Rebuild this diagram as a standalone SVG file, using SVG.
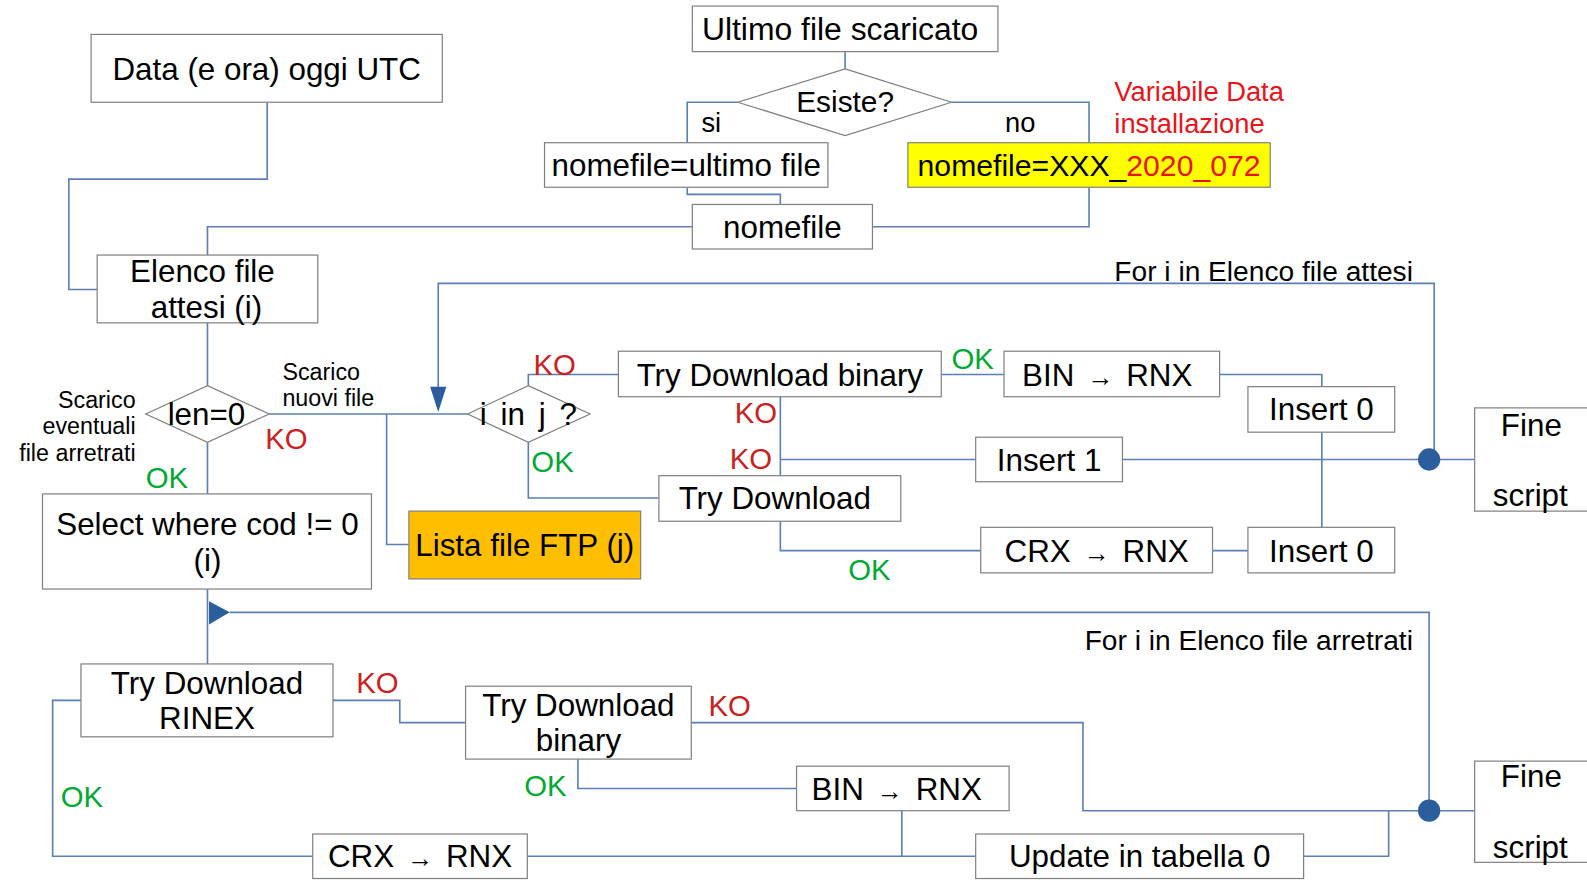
<svg xmlns="http://www.w3.org/2000/svg" width="1587" height="893" viewBox="0 0 1587 893">
<defs>
<style>
.bx{fill:#fff;stroke:#808080;stroke-width:1.2}
.cn{fill:none;stroke:#5b7fb5;stroke-width:1.6}
.hd{fill:#2c5d9c;stroke:none}
text{font-family:"Liberation Sans",Arial,sans-serif;fill:#000}
.t{font-size:31px;text-anchor:middle}
.s{font-size:23px}
.m{font-size:27px}
.ko{font-size:29px;fill:#c9211e}
.ok{font-size:29px;fill:#00a933}
.cv{word-spacing:4px}
.ar{font-size:26px}
.red{fill:#e8141a}
</style>
</defs>
<rect width="1587" height="893" fill="#fff"/>
<g transform="scale(1.01212)">
<g id="connectors">
<path class="cn" d="M264,101 V177 H68 V286 H96"/>
<path class="cn" d="M835,51 V68"/>
<path class="cn" d="M729,101 H679 V141"/>
<path class="cn" d="M940,101 H1076 V224 H862"/>
<path class="cn" d="M679,185 V192 H771 V202"/>
<path class="cn" d="M684,224 H205 V252"/>
<path class="cn" d="M205,319 V381"/>
<path class="cn" d="M205,437 V488"/>
<path class="cn" d="M266,409 H462"/>
<path class="cn" d="M382,409 V538 H404"/>
<path class="cn" d="M1417,454 V280 H433 V384"/>
<polygon class="hd" points="425,382 441,382 433,407"/>
<path class="cn" d="M522,381 V370 H611"/>
<path class="cn" d="M522,437 V492 H651"/>
<path class="cn" d="M930,370 H992"/>
<path class="cn" d="M1205,370 H1306 V382"/>
<path class="cn" d="M771,392 V470"/>
<path class="cn" d="M771,454 H964"/>
<path class="cn" d="M1109,454 H1457"/>
<path class="cn" d="M1306,427 V521"/>
<path class="cn" d="M771,515 V544 H969"/>
<path class="cn" d="M1198,544 H1233"/>
<path class="cn" d="M205,582 V656"/>
<path class="cn" d="M1412,801 V605 H227"/>
<polygon class="hd" points="206.5,594 206.5,617 227,605"/>
<path class="cn" d="M329,692 H395 V714 H460"/>
<path class="cn" d="M80,692 H52 V846 H309"/>
<path class="cn" d="M683,714 H1070 V801 H1457"/>
<path class="cn" d="M571,750 V779 H787"/>
<path class="cn" d="M891,801 V846 H964"/>
<path class="cn" d="M521,846 H891"/>
<path class="cn" d="M1288,846 H1372 V801"/>
<circle class="hd" cx="1412" cy="454" r="11"/>
<circle class="hd" cx="1412" cy="801" r="11"/>
</g>
<g id="labels">
<text class="m" x="693" y="130">si</text>
<text class="m" x="993" y="130">no</text>
<text class="m red" x="1101" y="100">Variabile Data</text>
<text class="m red" x="1101" y="131">installazione</text>
<text class="s" x="279" y="375">Scarico</text>
<text class="s" x="279" y="401">nuovi file</text>
<text class="s" x="134" y="403" text-anchor="end">Scarico</text>
<text class="s" x="134" y="429" text-anchor="end">eventuali</text>
<text class="s" x="134" y="455" text-anchor="end">file arretrati</text>
<text class="ko" x="262" y="444">KO</text>
<text class="ok" x="144" y="482">OK</text>
<text class="ko" x="527" y="371">KO</text>
<text class="ok" x="525" y="466">OK</text>
<text class="ok" x="940" y="365">OK</text>
<text class="ko" x="726" y="418">KO</text>
<text class="ko" x="721" y="463">KO</text>
<text class="ok" x="838" y="573">OK</text>
<text class="m" x="1396" y="278" text-anchor="end" style="font-size:27.8px">For i in Elenco file attesi</text>
<text class="m" x="1396" y="642" text-anchor="end" style="font-size:27.8px">For i in Elenco file arretrati</text>
<text class="ko" x="352" y="685">KO</text>
<text class="ko" x="700" y="707">KO</text>
<text class="ok" x="518" y="786">OK</text>
<text class="ok" x="60" y="797">OK</text>
</g>
<g id="n-data"><rect class="bx" x="90" y="34" width="347" height="67"/><text class="t" x="263.5" y="79">Data (e ora) oggi UTC</text></g>
<g id="n-ultimo"><rect class="bx" x="684" y="6" width="302" height="45"/><text class="t" x="830" y="40" style="font-size:31.5px">Ultimo file scaricato</text></g>
<g id="n-esiste"><polygon class="bx" points="835,68 940,101 835,134 729,101"/><text class="t" x="835" y="111" style="font-size:29.5px">Esiste?</text></g>
<g id="n-ultimofile"><rect class="bx" x="538" y="141" width="280" height="44"/><text class="t" x="678" y="174">nomefile=ultimo file</text></g>
<g id="n-xxx"><rect class="bx" x="897" y="141" width="358" height="44" style="fill:#ffff00"/><text class="t" x="1076" y="174" style="font-size:29.8px">nomefile=XXX_<tspan class="red">2020_072</tspan></text></g>
<g id="n-nomefile"><rect class="bx" x="684" y="202" width="178" height="44"/><text class="t" x="773" y="235">nomefile</text></g>
<g id="n-elenco"><rect class="bx" x="96" y="252" width="218" height="67"/><text class="t" x="200" y="279">Elenco file</text><text class="t" x="204" y="314">attesi (i)</text></g>
<g id="n-len"><polygon class="bx" points="205,381 266,409 205,437 144,409"/><text class="t" x="204" y="420">len=0</text></g>
<g id="n-iinj"><polygon class="bx" points="522,381 583,409 522,437 462,409"/><text class="t" x="522" y="420" style="word-spacing:5px">i in j ?</text></g>
<g id="n-select"><rect class="bx" x="42" y="488" width="325" height="94"/><text class="t" x="205" y="529">Select where cod != 0</text><text class="t" x="205" y="564">(i)</text></g>
<g id="n-lista"><rect class="bx" x="404" y="505" width="229" height="67" style="fill:#ffbf00"/><text class="t" x="518.5" y="549">Lista file FTP (j)</text></g>
<g id="n-tdb"><rect class="bx" x="611" y="347" width="319" height="45"/><text class="t" x="770.5" y="381">Try Download binary</text></g>
<g id="n-bin1"><rect class="bx" x="992" y="347" width="213" height="45"/><text class="t cv" x="1094" y="381">BIN <tspan class="ar">→</tspan> RNX</text></g>
<g id="n-ins0a"><rect class="bx" x="1233" y="382" width="145" height="45"/><text class="t" x="1305.5" y="415">Insert 0</text></g>
<g id="n-ins1"><rect class="bx" x="964" y="432" width="145" height="44"/><text class="t" x="1036.5" y="465">Insert 1</text></g>
<g id="n-td"><rect class="bx" x="651" y="470" width="239" height="45"/><text class="t" x="765.5" y="503">Try Download</text></g>
<g id="n-crx1"><rect class="bx" x="969" y="521" width="229" height="45"/><text class="t cv" x="1083.5" y="555">CRX <tspan class="ar">→</tspan> RNX</text></g>
<g id="n-ins0b"><rect class="bx" x="1233" y="521" width="145" height="45"/><text class="t" x="1305.5" y="555">Insert 0</text></g>
<g id="n-fine1"><rect class="bx" x="1457" y="403" width="140" height="102"/><text class="t" x="1513" y="431">Fine</text><text class="t" x="1512" y="500">script</text></g>
<g id="n-tdr"><rect class="bx" x="80" y="656" width="249" height="72"/><text class="t" x="204.5" y="686">Try Download</text><text class="t" x="204.5" y="720">RINEX</text></g>
<g id="n-tdb2"><rect class="bx" x="460" y="678" width="223" height="72"/><text class="t" x="571.5" y="707">Try Download</text><text class="t" x="571.5" y="742">binary</text></g>
<g id="n-bin2"><rect class="bx" x="787" y="757" width="210" height="44"/><text class="t cv" x="886" y="790">BIN <tspan class="ar">→</tspan> RNX</text></g>
<g id="n-crx2"><rect class="bx" x="309" y="824" width="212" height="44"/><text class="t cv" x="415" y="857">CRX <tspan class="ar">→</tspan> RNX</text></g>
<g id="n-update"><rect class="bx" x="964" y="824" width="324" height="44"/><text class="t" x="1126" y="857">Update in tabella 0</text></g>
<g id="n-fine2"><rect class="bx" x="1457" y="752" width="140" height="100"/><text class="t" x="1513" y="778">Fine</text><text class="t" x="1512" y="848">script</text></g>
</g>
</svg>
